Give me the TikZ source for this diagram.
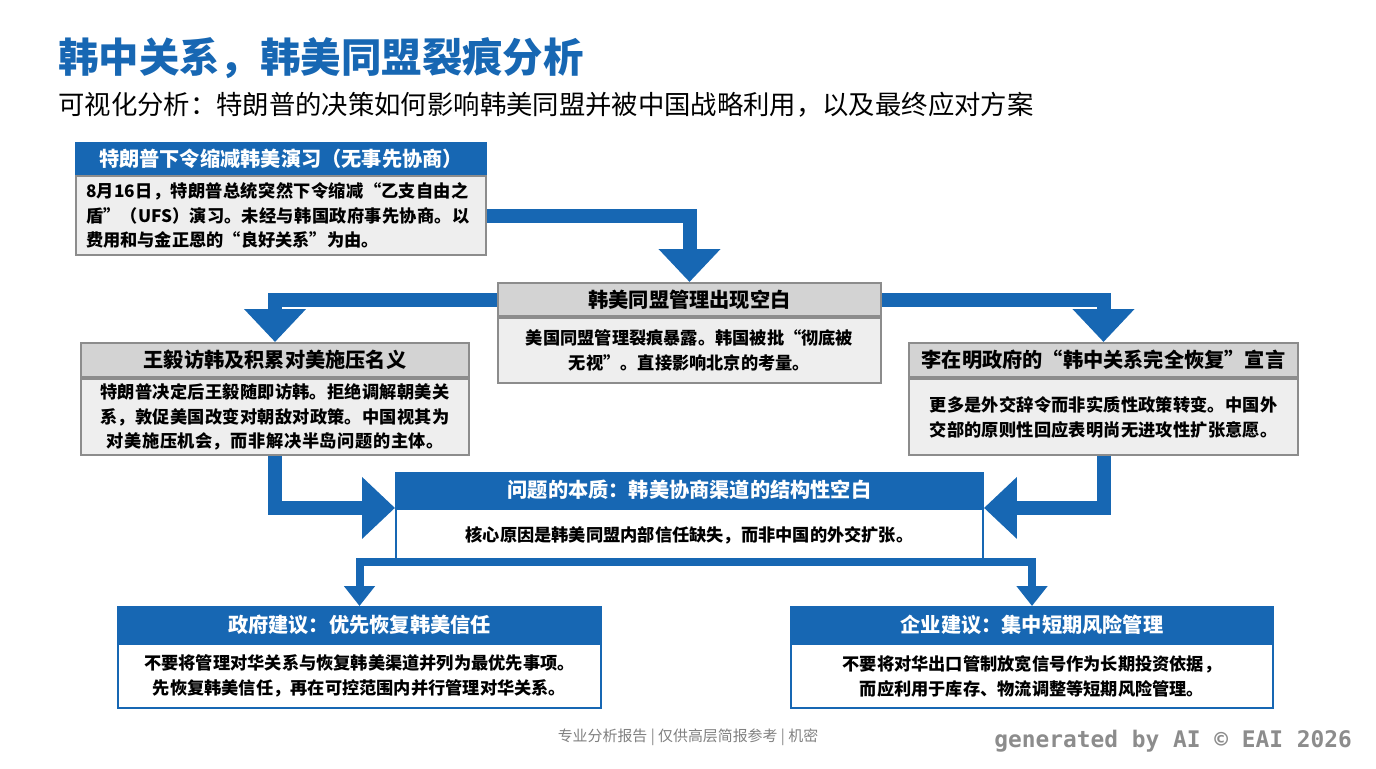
\documentclass[tikz,border=0pt]{standalone}
\usepackage{fontspec}
\setmainfont{Noto Sans CJK SC}
\newfontfamily\wmfont{DejaVu Sans Mono}
\XeTeXlinebreaklocale "zh"
\XeTeXlinebreakskip=0pt plus 1pt
\usetikzlibrary{arrows.meta,calc}
\definecolor{eaiblue}{HTML}{1767B3}
\definecolor{eaigray}{HTML}{D3D3D3}
\definecolor{eaibody}{HTML}{EEEEEE}
\tikzset{
    boxnode/.style = {rectangle, anchor=north west, inner sep=2pt, align=center},
    bluehead/.style = {boxnode, fill=eaiblue, draw=eaiblue, line width=1.2pt, text=white, font=\bfseries\fontsize{11.5}{13}\selectfont},
    grayhead/.style = {boxnode, fill=eaigray, draw=black!45, line width=1.2pt, text=black, font=\bfseries\fontsize{11.5}{13}\selectfont},
    graybody/.style = {boxnode, fill=eaibody, draw=black!45, line width=1.2pt, font=\bfseries\fontsize{9.8}{14}\selectfont},
    bluebody/.style = {boxnode, fill=white, draw=eaiblue, line width=1.2pt, font=\bfseries\fontsize{9.8}{14}\selectfont},
    bigarrow/.style = {draw=eaiblue, line width=0.28cm, line join=miter, -{Triangle[width=1.2cm,length=0.66cm]}},
    smallarrow/.style = {draw=eaiblue, line width=0.16cm, line join=miter, -{Triangle[width=0.6cm,length=0.4cm]}}
}
\begin{document}
\begin{tikzpicture}[x=0.02cm,y=-0.02cm]
    \useasboundingbox (0,0) rectangle (1376,768);

    % titles
    \node (title) [anchor=west, text=eaiblue, font=\bfseries\fontsize{23}{27}\selectfont, inner sep=0pt] at (58,58) {韩中关系，韩美同盟裂痕分析};
    \node (subtitle) [anchor=west, font=\fontsize{15}{18}\selectfont, inner sep=0pt] at (58,105) {可视化分析：特朗普的决策如何影响韩美同盟并被中国战略利用，以及最终应对方案};

    % boxes
    \node (Ah) [bluehead, minimum width=8.2cm, minimum height=0.62cm] at (75,142) {特朗普下令缩减韩美演习（无事先协商）};
    \node (Ab) [graybody, minimum width=8.2cm, minimum height=1.58cm, align=left, text width=7.8cm] at (Ah.south west) {8月16日，特朗普总统突然下令缩减“乙支自由之盾”（UFS）演习。未经与韩国政府事先协商。以费用和与金正恩的“良好关系”为由。};

    \node (Bh) [grayhead, minimum width=7.66cm, minimum height=0.66cm] at (497,282) {韩美同盟管理出现空白};
    \node (Bb) [graybody, minimum width=7.66cm, minimum height=1.3cm] at (Bh.south west) {美国同盟管理裂痕暴露。韩国被批“彻底被\\无视”。直接影响北京的考量。};

    \node (Ch) [grayhead, minimum width=7.76cm, minimum height=0.68cm] at (80,342) {王毅访韩及积累对美施压名义};
    \node (Cb) [graybody, minimum width=7.76cm, minimum height=1.52cm, text width=7.2cm] at (Ch.south west) {特朗普决定后王毅随即访韩。拒绝调解朝美关系，敦促美国改变对朝敌对政策。中国视其为对美施压机会，而非解决半岛问题的主体。};

    \node (Dh) [grayhead, minimum width=7.78cm, minimum height=0.68cm] at (908,342) {李在明政府的“韩中关系完全恢复”宣言};
    \node (Db) [graybody, minimum width=7.78cm, minimum height=1.52cm, text width=7.1cm] at (Dh.south west) {更多是外交辞令而非实质性政策转变。中国外交部的原则性回应表明尚无进攻性扩张意愿。};

    \node (Eh) [bluehead, minimum width=11.74cm, minimum height=0.68cm] at (395,472) {问题的本质：韩美协商渠道的结构性空白};
    \node (Eb) [bluebody, minimum width=11.74cm, minimum height=1.04cm] at (Eh.south west) {核心原因是韩美同盟内部信任缺失，而非中国的外交扩张。};

    \node (Fh) [bluehead, minimum width=9.66cm, minimum height=0.7cm] at (117,606) {政府建议：优先恢复韩美信任};
    \node (Fb) [bluebody, minimum width=9.66cm, minimum height=1.28cm] at (Fh.south west) {不要将管理对华关系与恢复韩美渠道并列为最优先事项。\\先恢复韩美信任，再在可控范围内并行管理对华关系。};

    \node (Gh) [bluehead, minimum width=9.64cm, minimum height=0.7cm] at (790,606) {企业建议：集中短期风险管理};
    \node (Gb) [bluebody, minimum width=9.64cm, minimum height=1.28cm] at (Gh.south west) {不要将对华出口管制放宽信号作为长期投资依据，\\而应利用于库存、物流调整等短期风险管理。};

    % connectors
    \draw [bigarrow] (Ab.east) -| (Bh.north);
    \draw [bigarrow] (Bh.west) -| (Ch.north);
    \draw [bigarrow] (Bh.east) -| (Dh.north);
    \coordinate (Ein) at ($(Eh.south west)+(0,-0.18)$);
    \coordinate (Eout) at ($(Eh.south east)+(0,-0.18)$);
    \draw [bigarrow] (Cb.south) |- (Ein);
    \draw [bigarrow] (Db.south) |- (Eout);
    \coordinate (split) at ($(Eb.south)+(0,-0.34)$);
    \draw [draw=eaiblue, line width=0.16cm] (Eb.south) -- (split);
    \draw [smallarrow] (split) -| (Fh.north);
    \draw [smallarrow] (split) -| (Gh.north);

    % footer
    \node (footer) [text=black!50, font=\fontsize{8.5}{10}\selectfont] at (688,737) {专业分析报告 | 仅供高层简报参考 | 机密};
    \node (mark) [anchor=east, text=black!45, font=\wmfont\bfseries\fontsize{13}{15}\selectfont] at (1358,741) {generated by AI © EAI 2026};
\end{tikzpicture}
\end{document}
